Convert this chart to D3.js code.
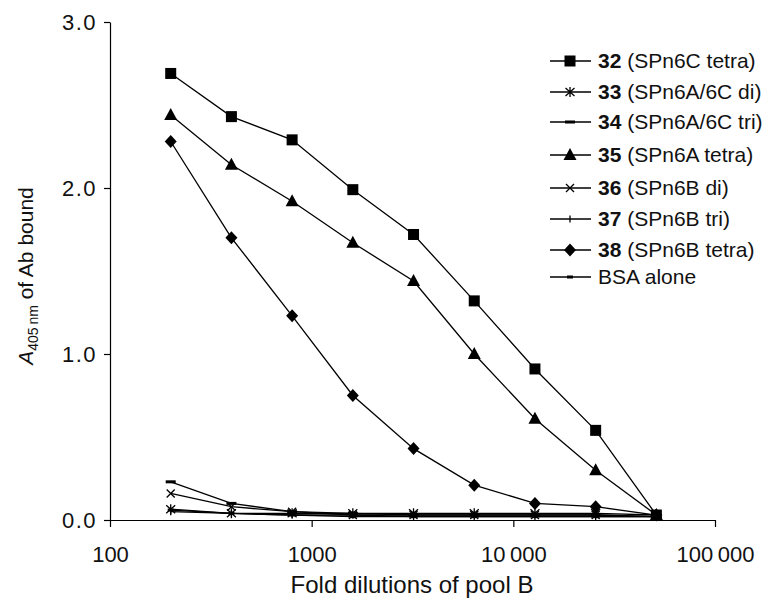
<!DOCTYPE html>
<html><head><meta charset="utf-8">
<script src="https://cdn.jsdelivr.net/npm/d3@7"></script>
<style>body{margin:0;background:#fff}svg{display:block}</style>
</head><body>
<script>
const dilutions = [200, 400, 800, 1600, 3200, 6400, 12800, 25600, 51200];
const s32 = [2.69, 2.43, 2.29, 1.99, 1.72, 1.32, 0.91, 0.54, 0.03];
const s33 = [0.065, 0.04, 0.04, 0.04, 0.04, 0.04, 0.04, 0.04, 0.03];
const s34 = [0.23, 0.10, 0.05, 0.04, 0.03, 0.03, 0.03, 0.03, 0.02];
const s35 = [2.44, 2.14, 1.92, 1.67, 1.44, 1.00, 0.61, 0.30, 0.03];
const s36 = [0.16, 0.08, 0.05, 0.03, 0.03, 0.03, 0.03, 0.03, 0.02];
const s37 = [0.05, 0.04, 0.03, 0.03, 0.02, 0.02, 0.02, 0.02, 0.02];
const s38 = [2.28, 1.70, 1.23, 0.75, 0.43, 0.21, 0.10, 0.08, 0.03];
const sBSA = [0.06, 0.04, 0.03, 0.02, 0.02, 0.02, 0.02, 0.02, 0.02];
const seriesIds = ["32", "33", "34", "35", "36", "37", "38", ""];
const seriesNames = ["(SPn6C tetra)", "(SPn6A/6C di)", "(SPn6A/6C tri)", "(SPn6A tetra)", "(SPn6B di)", "(SPn6B tri)", "(SPn6B tetra)", "BSA alone"];
const seriesMarkers = ["square", "asterisk", "dash", "triangle", "cross", "vtick", "diamond", "smalldash"];
const seriesValues = [s32, s33, s34, s35, s36, s37, s38, sBSA];
const xTicks = [100, 1000, 10000, 100000];
const xTickLabels = ["100", "1000", "10\u2009000", "100\u2009000"];
const yTicks = [0, 1, 2, 3];

const W = 763, H = 610;
const svg = d3.select("body").append("svg").attr("width", W).attr("height", H)
  .style("font-family", "Arial, 'Liberation Sans', sans-serif");

const x = d3.scaleLog().domain([100, 100000]).range([110, 715]);
const y = d3.scaleLinear().domain([0, 3]).range([520, 22]);

function marker(g, type, cx, cy) {
  const s = g.append("g").attr("transform", `translate(${cx},${cy})`);
  if (type === "square") {
    s.append("rect").attr("x", -5.5).attr("y", -5.5).attr("width", 11).attr("height", 11).attr("fill", "#000");
  } else if (type === "triangle") {
    s.append("path").attr("d", "M0,-7L6.5,5L-6.5,5Z").attr("fill", "#000");
  } else if (type === "diamond") {
    s.append("path").attr("d", "M0,-6.5L6,0L0,6.5L-6,0Z").attr("fill", "#000");
  } else if (type === "asterisk") {
    s.append("path").attr("d", "M0,-5V5M-4.5,-4L4.5,4M-4.5,4L4.5,-4").attr("stroke", "#000").attr("stroke-width", 1.3).attr("fill", "none");
  } else if (type === "cross") {
    s.append("path").attr("d", "M-4,-4L4,4M-4,4L4,-4").attr("stroke", "#000").attr("stroke-width", 1.3).attr("fill", "none");
  } else if (type === "dash") {
    s.append("rect").attr("x", -5).attr("y", -1.5).attr("width", 10).attr("height", 3).attr("fill", "#000");
  } else if (type === "smalldash") {
    s.append("rect").attr("x", -3).attr("y", -1.5).attr("width", 6).attr("height", 3).attr("fill", "#000");
  } else if (type === "vtick") {
    s.append("path").attr("d", "M0,-3.5V3.5").attr("stroke", "#000").attr("stroke-width", 1.3);
  }
}

// axes
const gy = svg.append("g").attr("transform", "translate(110,0)")
  .call(d3.axisLeft(y).tickValues(yTicks).tickFormat(d3.format(".1f")).tickSize(6).tickSizeOuter(0));
gy.select(".domain").attr("stroke", "#000").attr("stroke-width", 1.2);
gy.selectAll(".tick line").attr("stroke", "#000").attr("stroke-width", 1.2);
gy.selectAll(".tick text").attr("x", -13).attr("font-size", 22).attr("letter-spacing", 1.5)
  .attr("fill", "#111").attr("font-family", "Arial, 'Liberation Sans', sans-serif");

const gx = svg.append("g").attr("transform", "translate(0,520)")
  .call(d3.axisBottom(x).tickValues(xTicks).tickFormat((d, i) => xTickLabels[i]).tickSize(7).tickSizeOuter(0));
gx.select(".domain").attr("stroke", "#000").attr("stroke-width", 1.2);
gx.selectAll(".tick line").attr("stroke", "#000").attr("stroke-width", 1.2);
gx.selectAll(".tick text").attr("y", 26).attr("dy", "0.71em").attr("font-size", 22)
  .attr("fill", "#111").attr("font-family", "Arial, 'Liberation Sans', sans-serif");

// titles
svg.append("text").attr("x", 412).attr("y", 593).attr("text-anchor", "middle")
  .attr("font-size", 24).attr("fill", "#111").text("Fold dilutions of pool B");

const yt = svg.append("text").attr("transform", "translate(33,276) rotate(-90)")
  .attr("text-anchor", "middle").attr("font-size", 21).attr("fill", "#111");
yt.append("tspan").attr("font-style", "italic").text("A");
yt.append("tspan").attr("font-size", 14).attr("dy", 5).text("405\u2009nm");
yt.append("tspan").attr("dy", -5).text(" of Ab bound");

// series
const line = d3.line().x(d => x(d[0])).y(d => y(d[1]));
const plot = svg.append("g");
seriesValues.forEach((vals, i) => {
  const pts = dilutions.map((d, j) => [d, vals[j]]);
  plot.append("path").datum(pts).attr("d", line).attr("fill", "none")
    .attr("stroke", "#000").attr("stroke-width", 1.3);
});
seriesValues.forEach((vals, i) => {
  dilutions.forEach((d, j) => marker(plot, seriesMarkers[i], x(d), y(vals[j])));
});

// legend
const rowY = [61, 92, 122, 155, 188, 219, 250, 277];
const lg = svg.append("g");
seriesIds.forEach((id, i) => {
  const ry = rowY[i];
  lg.append("line").attr("x1", 550).attr("x2", 591).attr("y1", ry).attr("y2", ry)
    .attr("stroke", "#000").attr("stroke-width", 1.3);
  marker(lg, seriesMarkers[i], 570, ry);
  const t = lg.append("text").attr("x", 598).attr("y", ry + 7).attr("font-size", 21).attr("fill", "#111");
  if (id) {
    t.append("tspan").attr("font-weight", "bold").text(id + " ");
    t.append("tspan").text(seriesNames[i]);
  } else {
    t.text(seriesNames[i]);
  }
});
</script>
</body></html>
